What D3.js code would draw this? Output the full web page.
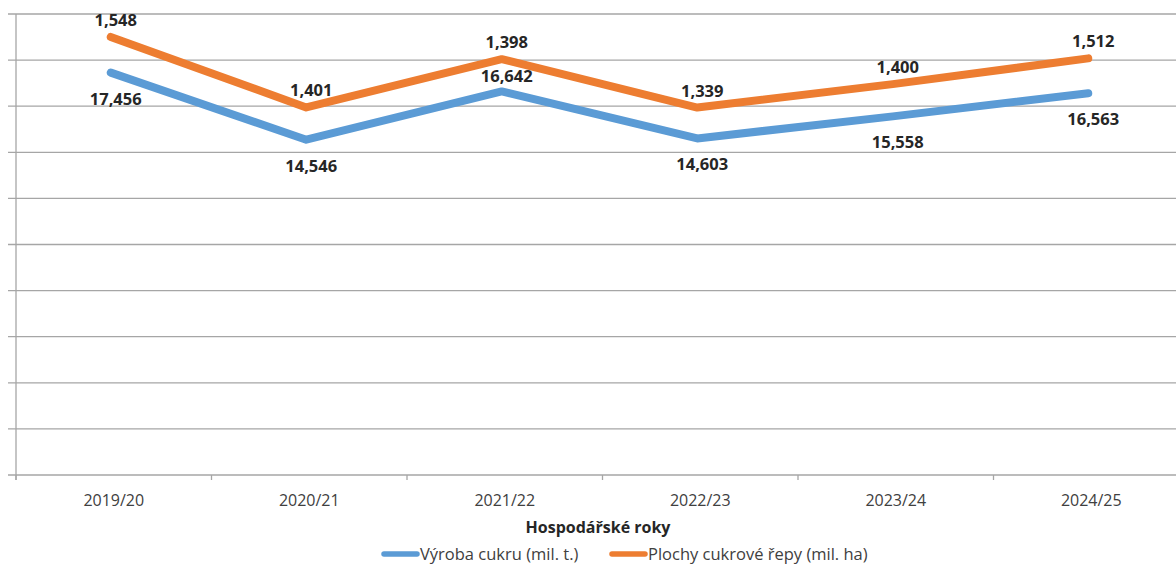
<!DOCTYPE html>
<html>
<head>
<meta charset="utf-8">
<script src="https://cdn.jsdelivr.net/npm/d3@7"></script>
<style>
  body { margin: 0; background: #fff; }
  text { font-family: "Open Sans", "Noto Sans", sans-serif; fill: #262626; }
</style>
</head>
<body>
<div id="chart"></div>
<script>
  // hospodarske roky
  var years = ['2019/20', '2020/21', '2021/22', '2022/23', '2023/24', '2024/25'];
  // vyroba cukru (mil. t.)
  var sugar = [17.456, 14.546, 16.642, 14.603, 15.558, 16.563];
  // plochy cukrove repy (mil. ha) - skladany nad cukrem
  var beet = [1.548, 1.401, 1.398, 1.339, 1.400, 1.512];
  var yTicks = [0, 2, 4, 6, 8, 10, 12, 14, 16, 18, 20];

  var W = 1176, H = 565;
  var m = { left: 16, top: 14, bottom: 475 };

  var svg = d3.select('#chart').append('svg')
              .attr('width', W)
              .attr('height', H);

  var x = d3.scaleBand()
            .domain(years)
            .range([m.left, m.left + 6 * 195.5]);

  var y = d3.scaleLinear()
            .domain([0, 20])
            .range([m.bottom, m.top]);

  var rows = years.map(function(d, i){ return { year: d, sugar: sugar[i], beet: beet[i] }; });
  var stacked = d3.stack().keys(['sugar', 'beet'])(rows);

  // gridlines
  svg.append('g').selectAll('line')
     .data(yTicks).enter().append('line')
     .attr('x1', 8).attr('x2', W)
     .attr('y1', function(d){ return y(d); })
     .attr('y2', function(d){ return y(d); })
     .style('stroke', '#a6a6a6')
     .style('stroke-width', 1.3);

  // y axis line
  svg.append('line')
     .attr('x1', m.left).attr('x2', m.left)
     .attr('y1', m.top).attr('y2', m.bottom + 5)
     .style('stroke', '#a6a6a6').style('stroke-width', 1.3);

  // x axis
  var xAxis = svg.append('g')
                 .attr('transform', 'translate(0,' + m.bottom + ')')
                 .call(d3.axisBottom(x).tickSize(0).tickPadding(20));
  xAxis.select('.domain').remove();
  xAxis.selectAll('text')
       .style('font-size', '16px')
       .style('fill', '#404040');

  svg.append('g').selectAll('line')
     .data(d3.range(years.length + 1)).enter().append('line')
     .attr('x1', function(i){ return m.left + i * x.bandwidth(); })
     .attr('x2', function(i){ return m.left + i * x.bandwidth(); })
     .attr('y1', m.bottom).attr('y2', m.bottom + 5)
     .style('stroke', '#a6a6a6').style('stroke-width', 1.3);

  var cx = function(d){ return x(d.data.year) + x.bandwidth() / 2 - 3; };
  var colors = ['#5b9bd5', '#ed7d31'];

  var line = d3.line()
               .x(cx)
               .y(function(d){ return y(d[1]); });

  svg.selectAll('.series')
     .data(stacked).enter().append('path')
     .attr('class', 'series')
     .attr('d', line)
     .style('fill', 'none')
     .style('stroke', function(d, i){ return colors[i]; })
     .style('stroke-width', 8)
     .style('stroke-linecap', 'round')
     .style('stroke-linejoin', 'round');

  var fmt = d3.format(',.3f');
  var lbl = function(v){ return fmt(v).replace('.', ','); };
  var sugarAbove = ['2021/22'];

  // popisky
  svg.append('g').selectAll('text')
     .data(stacked[0]).enter().append('text')
     .attr('x', function(d){ return cx(d) + 5; })
     .attr('y', function(d){
        return sugarAbove.indexOf(d.data.year) >= 0 ? y(d[1]) - 9 : y(d[1]) + 32;
     })
     .attr('text-anchor', 'middle')
     .style('font-size', '16.5px').style('font-weight', 'bold')
     .text(function(d){ return lbl(d.data.sugar); });

  svg.append('g').selectAll('text')
     .data(stacked[1]).enter().append('text')
     .attr('x', function(d){ return cx(d) + 5; })
     .attr('y', function(d){ return y(d[1]) - 11; })
     .attr('text-anchor', 'middle')
     .style('font-size', '16.5px').style('font-weight', 'bold')
     .text(function(d){ return lbl(d.data.beet); });

  svg.append('text')
     .attr('x', 598).attr('y', 533)
     .attr('text-anchor', 'middle')
     .style('font-size', '16px').style('font-weight', 'bold')
     .text('Hospodářské roky');

  var legend = [
    { name: 'Výroba cukru (mil. t.)', x: 381 },
    { name: 'Plochy cukrové řepy (mil. ha)', x: 609 }
  ];
  var lg = svg.append('g').selectAll('g')
              .data(legend).enter().append('g')
              .attr('transform', function(d){ return 'translate(' + d.x + ',554)'; });
  lg.append('line')
    .attr('x1', 3).attr('x2', 36).attr('y1', 0).attr('y2', 0)
    .style('stroke', function(d, i){ return colors[i]; })
    .style('stroke-width', 5.5)
    .style('stroke-linecap', 'round');
  lg.append('text')
    .attr('x', 39).attr('y', 6)
    .style('font-size', '16.5px')
    .style('fill', '#404040')
    .text(function(d){ return d.name; });
</script>
</body>
</html>
